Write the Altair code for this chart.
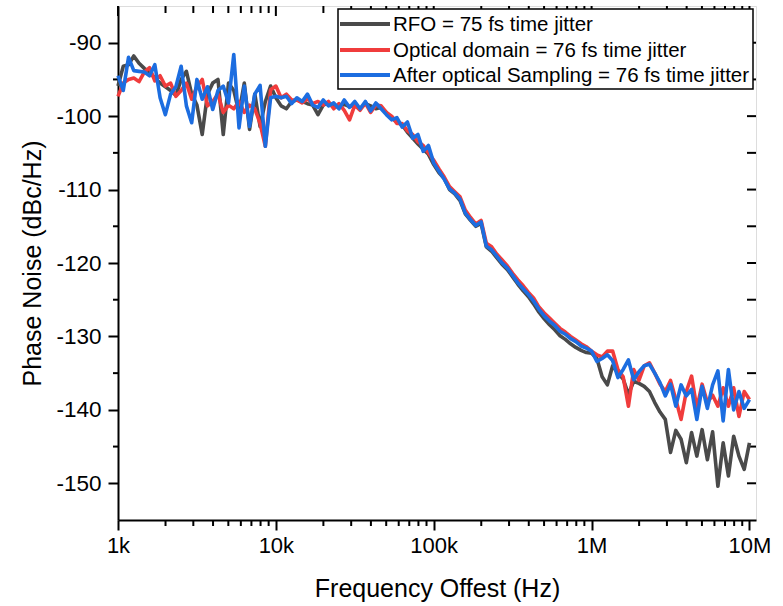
import altair as alt
import pandas as pd

# Offset frequency (Hz), log-spaced measurement points
FREQ_HZ = [
    1000, 1080, 1166, 1259, 1359, 1468, 1585, 1711, 1848, 1995, 2154, 2326, 2512, 2712, 2929,
    3162, 3415, 3687, 3981, 4299, 4642, 5012, 5412, 5843, 6310, 6813, 7356, 7943, 8577, 9261,
    10000, 10800, 11660, 12590, 13590, 14680, 15850, 17110, 18480, 19950, 21540, 23260, 25120, 27120, 29290,
    31620, 34150, 36870, 39810, 42990, 46420, 50120, 54120, 58430, 63100, 68130, 73560, 79430, 85770, 92610,
    100000, 108000, 116600, 125900, 135900, 146800, 158500, 171100, 184800, 199500, 215400, 232600, 251200, 271200, 292900,
    316200, 341500, 368700, 398100, 429900, 464200, 501200, 541200, 584300, 631000, 681300, 735600, 794300, 857700, 926100,
    1000000, 1080000, 1166000, 1259000, 1359000, 1468000, 1585000, 1711000, 1848000, 1995000, 2154000, 2326000, 2512000, 2712000, 2929000,
    3162000, 3415000, 3687000, 3981000, 4299000, 4642000, 5012000, 5412000, 5843000, 6310000, 6813000, 7356000, 7943000, 8577000, 9261000,
    10000000,
]

RFO_DBC = [
    -95.9, -93.2, -93.0, -91.8, -92.8, -93.5, -94.0, -94.8, -95.5, -96.0, -96.5, -97.2, -95.0, -93.9, -97.0,
    -98.5, -102.5, -97.0, -95.5, -95.0, -102.5, -95.5, -96.5, -99.5, -95.5, -101.8, -97.0, -101.4, -98.0, -95.9,
    -97.5, -98.6, -99.0, -98.0, -97.8, -98.0, -98.3, -98.5, -99.8, -98.5, -98.2, -98.8, -98.6, -98.4, -98.7,
    -98.5, -99.0, -98.3, -98.6, -99.0, -98.8, -99.5, -100.2, -100.8, -101.2, -102.2, -103.0, -103.8, -104.5, -105.2,
    -106.6, -107.7, -108.5, -110.0, -110.6, -111.5, -113.3, -114.2, -115.0, -114.6, -117.8, -118.4, -119.3, -120.2, -120.9,
    -121.9, -122.9, -123.8, -124.6, -125.6, -126.7, -127.6, -128.4, -129.1, -129.9, -130.4, -131.0, -131.5, -131.9, -132.2,
    -132.3, -133.0, -135.5, -136.6, -134.0, -135.0, -135.8, -137.9, -136.1, -136.4, -136.8, -137.5, -139.0, -140.3, -141.3,
    -145.8, -142.8, -144.0, -147.2, -143.1, -146.3, -142.7, -146.8, -143.0, -150.4, -144.5, -149.0, -143.6, -146.3, -148.1,
    -144.5,
]

OPTICAL_DBC = [
    -97.3, -95.5, -95.0, -94.8, -95.3, -94.0, -93.4, -95.2, -94.5, -95.9, -95.5, -97.3, -96.5, -95.5, -97.7,
    -96.0, -95.0, -98.6, -98.0, -97.0, -99.5, -98.5, -99.0, -98.0, -99.5, -98.5, -99.0, -101.0, -104.1, -96.4,
    -95.9, -97.5, -97.0, -97.8, -97.8, -98.2, -97.6, -98.3, -98.0, -98.5, -98.0, -99.0, -98.3, -99.2, -100.5,
    -98.5, -99.2, -98.2, -99.5, -98.5, -98.6, -99.5, -100.0, -101.0, -101.0, -102.0, -102.5, -103.5, -104.0, -105.0,
    -106.0, -107.2, -108.3, -109.6, -110.3, -111.0, -112.8, -113.8, -114.7, -114.2, -117.3, -117.8, -118.8, -119.6, -120.4,
    -121.4, -122.3, -123.1, -124.0, -124.8, -126.0, -126.8, -127.5, -128.2, -128.9, -129.4, -130.0, -130.5, -131.0, -131.4,
    -132.0, -132.5, -132.8, -132.0, -132.0, -134.5, -135.5, -139.5, -134.5, -136.0, -134.0, -133.6, -135.0, -136.5, -137.5,
    -136.0, -138.6, -141.3, -137.5, -135.4, -139.8, -136.5, -139.0, -138.0, -139.5, -137.0, -139.5, -137.0, -140.9, -137.5,
    -138.6,
]

SAMPLED_DBC = [
    -94.5, -96.5, -92.0, -93.8, -93.9, -94.0, -94.5, -93.0, -97.5, -99.8, -97.0, -96.0, -93.2, -98.6, -100.9,
    -95.0, -97.7, -96.0, -99.1, -96.5, -95.9, -98.2, -91.6, -101.6, -95.9, -101.4, -97.0, -95.8, -104.1, -97.5,
    -97.3, -97.5, -97.3, -98.3, -97.5, -98.0, -97.0, -98.5, -98.8, -97.8, -98.6, -98.2, -99.0, -97.8, -98.8,
    -98.0, -99.0, -98.0, -99.3, -98.2, -99.0, -99.8, -100.5, -100.2, -101.5, -100.8, -103.0, -102.5, -104.8, -104.0,
    -106.4, -107.5, -108.6, -109.9, -110.5, -111.3, -113.2, -114.1, -114.9, -114.4, -117.7, -118.2, -119.1, -120.0, -120.7,
    -121.7, -122.7, -123.5, -124.3, -125.2, -126.3, -127.2, -127.9, -128.5, -129.3, -129.7, -130.3, -130.7, -131.3, -131.6,
    -132.0, -133.4, -133.0, -132.5, -133.3, -135.6, -134.5, -133.2, -135.9, -134.8, -134.0, -133.8, -135.0, -136.3, -138.1,
    -136.5, -139.5, -136.6, -138.1, -137.2, -141.3, -136.8, -139.8, -136.6, -134.7, -141.5, -134.5, -140.0, -137.5, -139.8,
    -138.6,
]

SERIES = [
    "RFO = 75 fs time jitter",
    "Optical domain = 76 fs time jitter",
    "After optical Sampling = 76 fs time jitter",
]
COLORS = ["#4a4a4a", "#f03c3c", "#1c6de0"]

X_MAJOR = [1000, 10000, 100000, 1000000, 10000000]
X_MINOR = [2000, 3000, 4000, 5000, 6000, 7000, 8000, 9000,
           20000, 30000, 40000, 50000, 60000, 70000, 80000, 90000,
           200000, 300000, 400000, 500000, 600000, 700000, 800000, 900000,
           2000000, 3000000, 4000000, 5000000, 6000000, 7000000, 8000000, 9000000]
Y_MAJOR = [-150, -140, -130, -120, -110, -100, -90]
Y_MINOR = [-145, -135, -125, -115, -105, -95]

assert len(FREQ_HZ) == len(RFO_DBC) == len(OPTICAL_DBC) == len(SAMPLED_DBC)

rows = []
for name, vals in zip(SERIES, [RFO_DBC, OPTICAL_DBC, SAMPLED_DBC]):
    for f, v in zip(FREQ_HZ, vals):
        rows.append({"f": f, "v": v, "series": name})
df = pd.DataFrame(rows)

W, H = 638, 514
FONT = "Liberation Sans"

xscale = alt.Scale(type="log", domain=[1000, 11000000], nice=False)
yscale = alt.Scale(domain=[-155, -85], nice=False, zero=False)

lines = alt.Chart(df).mark_line(strokeWidth=3.6, strokeJoin="round").encode(
    x=alt.X("f:Q", scale=xscale, axis=alt.Axis(
        values=X_MAJOR,
        labelExpr="datum.value >= 1000000 ? (datum.value/1000000) + 'M' : (datum.value/1000) + 'k'",
        title="Frequency Offest (Hz)", tickSize=10, tickWidth=2, tickColor="black",
        domainColor="black", domainWidth=2, labelFontSize=22, labelFont=FONT, labelColor="black",
        labelPadding=5, labelFlush=False, labelOverlap=False, titleFontSize=25, titleFont=FONT,
        titleFontWeight="normal", titleColor="black", titlePadding=20, grid=False)),
    y=alt.Y("v:Q", scale=yscale, axis=alt.Axis(
        values=Y_MAJOR, labelExpr="'' + datum.value",
        title="Phase Noise (dBc/Hz)", tickSize=10, tickWidth=2, tickColor="black",
        domainColor="black", domainWidth=2, labelFontSize=22.5, labelFont=FONT, labelColor="black",
        labelPadding=7, labelFlush=False, labelOverlap=False, titleFontSize=25, titleFont=FONT,
        titleFontWeight="normal", titleColor="black", titlePadding=10, grid=False)),
    color=alt.Color("series:N", scale=alt.Scale(domain=SERIES, range=COLORS), legend=None),
)

xminor = pd.DataFrame({"f": X_MINOR})
xmajor = pd.DataFrame({"f": X_MAJOR})
yall = pd.DataFrame({"v": Y_MAJOR + Y_MINOR})
yminor = pd.DataFrame({"v": Y_MINOR})

bottom_minor = alt.Chart(xminor).mark_rule(color="black", strokeWidth=2).encode(
    x=alt.X("f:Q", scale=xscale), y=alt.value(H), y2=alt.value(H + 6))
top_minor = alt.Chart(xminor).mark_rule(color="black", strokeWidth=2).encode(
    x=alt.X("f:Q", scale=xscale), y=alt.value(0), y2=alt.value(7))
top_major = alt.Chart(xmajor).mark_rule(color="black", strokeWidth=2).encode(
    x=alt.X("f:Q", scale=xscale), y=alt.value(0), y2=alt.value(10))
left_minor = alt.Chart(yminor).mark_rule(color="black", strokeWidth=2).encode(
    y=alt.Y("v:Q", scale=yscale), x=alt.value(-5), x2=alt.value(0))
right_ticks = alt.Chart(yall).mark_rule(color="black", strokeWidth=2).encode(
    y=alt.Y("v:Q", scale=yscale), x=alt.value(W - 9), x2=alt.value(W))

# Legend box drawn inside the plot (top-right)
LEG_X0, LEG_X1, LEG_Y0, LEG_Y1 = 220, 635, 3, 83
ROW_Y = [18, 44, 69]
legend_df = pd.DataFrame({"label": SERIES})
legend_box = alt.Chart(legend_df.head(1)).mark_rect(
    fill="white", stroke="black", strokeWidth=1.5).encode(
    x=alt.value(LEG_X0), x2=alt.value(LEG_X1), y=alt.value(LEG_Y0), y2=alt.value(LEG_Y1))
legend_layers = [legend_box]
for i, name in enumerate(SERIES):
    row = pd.DataFrame({"label": [name]})
    legend_layers.append(alt.Chart(row).mark_rule(color=COLORS[i], strokeWidth=4).encode(
        x=alt.value(LEG_X0 + 2), x2=alt.value(LEG_X0 + 52), y=alt.value(ROW_Y[i])))
    legend_layers.append(alt.Chart(row).mark_text(
        align="left", baseline="middle", font=FONT, fontSize=20.5, color="black").encode(
        x=alt.value(LEG_X0 + 55), y=alt.value(ROW_Y[i] + 1), text="label:N"))

chart = alt.layer(
    bottom_minor, top_minor, top_major, left_minor, right_ticks, lines, *legend_layers
).properties(
    width=W, height=H, autosize=alt.AutoSizeParams(type="none"),
    padding={"left": 118, "top": 6, "right": 27, "bottom": 86},
).configure_view(stroke="black", strokeWidth=2).configure(background="white")

chart.save("out.html", embed_options={"renderer": "svg", "actions": False})
